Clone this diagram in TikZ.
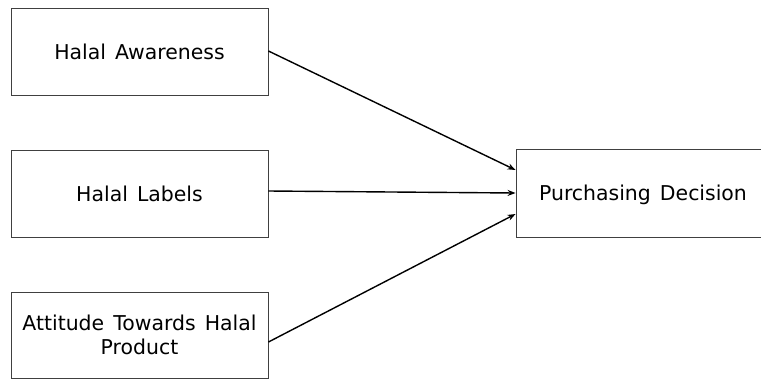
\documentclass[tikz,border=0pt]{standalone}
\usepackage{fontspec}
\setmainfont[WordSpace={1.4}]{DejaVu Sans}
\usetikzlibrary{arrows.meta}
\begin{document}
\begin{tikzpicture}[x=1bp,y=-1bp,
  box/.style={draw=black!75, line width=0.9bp, fill=white, inner sep=0pt, align=center,
    font=\fontsize{20.5}{24.5}\selectfont, text=black},
  conn/.style={draw=black, line width=1.4bp, -{Stealth[length=8bp,width=6bp]}}]
\useasboundingbox (0,0) rectangle (761,379);
\node[box, minimum width=257bp, minimum height=87bp] (aw) at (139.5,51.5) {Halal Awareness};
\node[box, minimum width=257bp, minimum height=87bp] (lb) at (139.5,193.5) {Halal Labels};
\node[box, minimum width=257bp, minimum height=86bp] (at) at (139.5,335) {Attitude Towards Halal\\Product};
\node[box, minimum width=254bp, minimum height=88bp, text depth=0pt] (pd) at (643,193) {Purchasing Decision};
\draw[conn] ([yshift=0.5bp]aw.east) -- ([yshift=23bp]pd.west);
\draw[conn] ([yshift=2.5bp]lb.east) -- (pd.west);
\draw[conn] ([yshift=-7bp]at.east) -- ([yshift=-21bp]pd.west);
\end{tikzpicture}
\end{document}
